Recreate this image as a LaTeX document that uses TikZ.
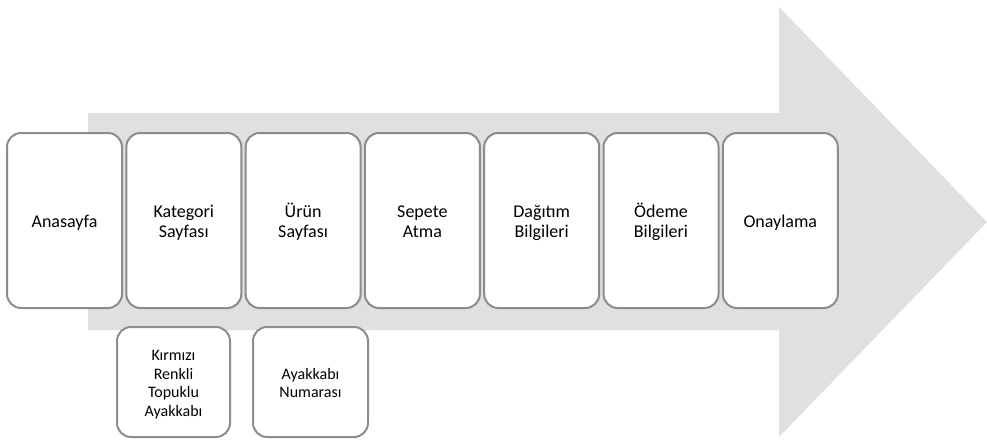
\documentclass[tikz,border=0pt]{standalone}
\usepackage{fontspec}
\setmainfont{Carlito}
\newcommand{\ustrut}{\rule{0pt}{17pt}}
\newcommand{\altstrut}{\rule[-4pt]{0pt}{4pt}}
\tikzset{
  kutu/.style={draw=gray!90, line width=2pt, fill=white, rounded corners=14pt,
    inner sep=0pt, align=center, text width=105pt, minimum width=115pt, minimum height=175pt,
    font=\fontsize{18}{20}\selectfont,
    execute at begin node=\ustrut, execute at end node=\altstrut},
  altkutu/.style={kutu, minimum height=110pt, font=\fontsize{16}{18.4}\selectfont},
}
\begin{document}
\begin{tikzpicture}[x=1pt,y=-1pt]
\useasboundingbox (0,0) rectangle (987,439);
% big arrow in the back
\fill [gray!24] (88,113) -- (779,113) -- (779,7) -- (987,222) -- (779,437) -- (779,330) -- (88,330) -- cycle;
% steps
\node [kutu] (anasayfa) at (64.5,220.5) {Anasayfa};
\node [kutu] (kategori) at (183.8,220.5) {Kategori\\Sayfası};
\node [kutu] (urun) at (303.1,220.5) {Ürün\\Sayfası};
\node [kutu] (sepet) at (422.4,220.5) {Sepete\\Atma};
\node [kutu] (dagitim) at (541.7,220.5) {Dağıtım\\Bilgileri};
\node [kutu] (odeme) at (661,220.5) {Ödeme\\Bilgileri};
\node [kutu] (onay) at (780.3,220.5) {Onaylama};
% details under the steps
\node [altkutu, minimum width=113pt] (secim) at (173.5,382) {Kırmızı\\Renkli\\Topuklu\\Ayakkabı};
\node [altkutu] (numara) at (310.5,382) {Ayakkabı\\Numarası};
\end{tikzpicture}
\end{document}
